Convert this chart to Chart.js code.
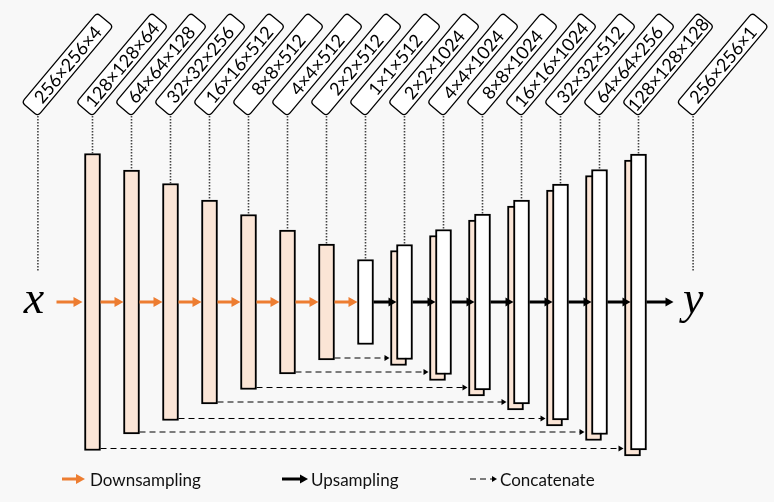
<!DOCTYPE html>
<html>
<head>
<meta charset="utf-8">
<script src="https://cdn.jsdelivr.net/npm/chart.js@4.4.1/dist/chart.umd.min.js"></script>
<style>
  html, body { margin: 0; padding: 0; background: #f8f8f8; }
  #unet { display: block; }
</style>
</head>
<body>
<canvas id="unet" width="774" height="502"></canvas>
<script>
// tensor shapes: input, 7 encoder blocks, bottleneck, 7 decoder blocks, output
const shapeLabels = ['256×256×4', '128×128×64', '64×64×128', '32×32×256', '16×16×512', '8×8×512',
  '4×4×512', '2×2×512', '1×1×512', '2×2×1024', '4×4×1024', '8×8×1024', '16×16×1024',
  '32×32×512', '64×64×256', '128×128×128', '256×256×1'];
// relative block heights
const encoderHeights = [297, 264, 237, 204, 175, 144, 116];
const bottleneckHeight = 85;
const decoderHeights = [115, 145, 176, 204, 236, 265, 296];
const legendLabels = ['Downsampling', 'Upsampling', 'Concatenate'];
const inputName = 'x';
const outputName = 'y';

// layout / style
const ORANGE = '#ed7d31';
const PEACH = '#fbe5d6';
const IO_GAP = 1.4;        // input/output columns, in block steps from the first/last block
const SHIFT = 6;           // px offset of the concatenated copy behind each decoder block
const LABEL_BASE = 186;    // y value where the label boxes end
const IO_LINE_END = 31;    // y value where the input/output dotted lines stop
const LEGEND_Y = 480;
const LEGEND_X = [62, 282, 470];

const span = h => [-h / 2, h / 2];
const encData = encoderHeights.map((h, i) => ({ x: i, y: span(h) }));
const midData = [{ x: encoderHeights.length, y: span(bottleneckHeight) }];
const decData = decoderHeights.map((h, j) => ({ x: encoderHeights.length + 1 + j, y: span(h) }));

const blockStyle = {
  borderColor: '#000',
  borderWidth: 2,
  borderSkipped: false,
  barThickness: 16,
  grouped: false
};

function arrow(ctx, x0, x1, yy, color, lw, headLen, headHalf, dash) {
  ctx.save();
  ctx.strokeStyle = color;
  ctx.fillStyle = color;
  ctx.lineWidth = lw;
  ctx.setLineDash(dash || []);
  ctx.beginPath();
  ctx.moveTo(x0, yy);
  ctx.lineTo(x1 - headLen + 1, yy);
  ctx.stroke();
  ctx.setLineDash([]);
  ctx.beginPath();
  ctx.moveTo(x1, yy);
  ctx.lineTo(x1 - headLen, yy - headHalf);
  ctx.lineTo(x1 - headLen, yy + headHalf);
  ctx.closePath();
  ctx.fill();
  ctx.restore();
}

function labelBox(ctx, ax, ay, text) {
  const L = 117, W = 21, r = 4, th = 50 * Math.PI / 180;
  const ux = Math.cos(th), uy = -Math.sin(th), vx = Math.sin(th), vy = Math.cos(th);
  const cx = ax + L / 2 * ux - W / 2 * vx;
  const cy = ay + L / 2 * uy - W / 2 * vy;
  ctx.save();
  ctx.translate(cx, cy);
  ctx.rotate(-th);
  const x0 = -L / 2, y0 = -W / 2, x1 = L / 2, y1 = W / 2;
  ctx.beginPath();
  ctx.moveTo(x0 + r, y0);
  ctx.lineTo(x1 - r, y0);
  ctx.quadraticCurveTo(x1, y0, x1, y0 + r);
  ctx.lineTo(x1, y1 - r);
  ctx.quadraticCurveTo(x1, y1, x1 - r, y1);
  ctx.lineTo(x0 + r, y1);
  ctx.quadraticCurveTo(x0, y1, x0, y1 - r);
  ctx.lineTo(x0, y0 + r);
  ctx.quadraticCurveTo(x0, y0, x0 + r, y0);
  ctx.closePath();
  ctx.fillStyle = '#fff';
  ctx.fill();
  ctx.lineWidth = 1.3;
  ctx.strokeStyle = '#000';
  ctx.stroke();
  ctx.fillStyle = '#000';
  ctx.font = '18px Lato';
  ctx.textAlign = 'center';
  ctx.textBaseline = 'middle';
  ctx.fillText(text, 0, 1);
  ctx.restore();
}

const box = el => ({
  cx: el.x,
  left: el.x - el.width / 2,
  right: el.x + el.width / 2,
  top: Math.min(el.y, el.base),
  bottom: Math.max(el.y, el.base)
});

const diagram = {
  id: 'diagram',
  beforeDatasetDraw(chart, args) {
    if (chart.data.datasets[args.index].concat) {
      chart.ctx.save();
      chart.ctx.translate(-SHIFT, SHIFT);
    }
  },
  afterDatasetDraw(chart, args) {
    if (chart.data.datasets[args.index].concat) chart.ctx.restore();
  },
  afterDatasetsDraw(chart) {
    const { ctx, scales: { x, y } } = chart;
    const enc = chart.getDatasetMeta(0).data.map(box);
    const mid = chart.getDatasetMeta(1).data.map(box)[0];
    const front = chart.getDatasetMeta(3).data.map(box);
    const blocks = [...enc, mid, ...front];
    const axisY = y.getPixelForValue(0);
    const labelY = y.getPixelForValue(LABEL_BASE);
    const ioEnd = y.getPixelForValue(IO_LINE_END);
    const inX = x.getPixelForValue(-IO_GAP);
    const outX = x.getPixelForValue(blocks.length - 1 + IO_GAP);
    const columns = [{ cx: inX, top: ioEnd }, ...blocks, { cx: outX, top: ioEnd }];

    // dotted leader lines
    ctx.save();
    ctx.strokeStyle = '#444';
    ctx.lineWidth = 1.6;
    ctx.setLineDash([1.5, 1.5]);
    columns.forEach(c => {
      ctx.beginPath();
      ctx.moveTo(c.cx, labelY);
      ctx.lineTo(c.cx, c.top);
      ctx.stroke();
    });
    ctx.restore();

    columns.forEach((c, k) => labelBox(ctx, c.cx, labelY, shapeLabels[k]));

    // downsampling path
    arrow(ctx, enc[0].left - 28, enc[0].left - 2, axisY, ORANGE, 3, 9, 5);
    const down = [...enc, mid];
    for (let i = 0; i < down.length - 1; i++) {
      arrow(ctx, down[i].right, down[i + 1].left, axisY, ORANGE, 3, 9, 5);
    }
    // upsampling path
    const up = [mid, ...front];
    for (let i = 0; i < up.length - 1; i++) {
      arrow(ctx, up[i].right, up[i + 1].left, axisY, '#000', 3, 8, 4.5);
    }
    const last = front[front.length - 1];
    arrow(ctx, last.right, last.right + 27, axisY, '#000', 3, 8, 4.5);

    // skip connections
    enc.forEach((e, i) => {
      const d = front[front.length - 1 - i];
      arrow(ctx, e.right, d.left - SHIFT - 1, e.bottom - 2, '#000', 1, 5, 3, [6, 4]);
    });

    // input / output symbols
    ctx.save();
    ctx.fillStyle = '#000';
    ctx.font = 'italic 46px "Liberation Serif"';
    ctx.textAlign = 'center';
    ctx.textBaseline = 'alphabetic';
    ctx.fillText(inputName, inX - 4, axisY + 11);
    ctx.fillText(outputName, outX, axisY + 11);
    ctx.restore();

    // legend
    arrow(ctx, LEGEND_X[0], LEGEND_X[0] + 23, LEGEND_Y - 1, ORANGE, 3, 9, 5);
    arrow(ctx, LEGEND_X[1], LEGEND_X[1] + 26, LEGEND_Y - 1, '#000', 3, 8, 4.5);
    arrow(ctx, LEGEND_X[2], LEGEND_X[2] + 27, LEGEND_Y - 1, '#000', 1, 5, 3, [6, 4]);
    const textX = [LEGEND_X[0] + 28, LEGEND_X[1] + 29, LEGEND_X[2] + 30];
    ctx.save();
    ctx.fillStyle = '#111';
    ctx.font = '17px Lato';
    ctx.textBaseline = 'middle';
    legendLabels.forEach((t, i) => ctx.fillText(t, textX[i], LEGEND_Y + 1));
    ctx.restore();
  }
};

new Chart(document.getElementById('unet'), {
  type: 'bar',
  data: {
    datasets: [
      { ...blockStyle, data: encData, backgroundColor: PEACH, order: 1 },
      { ...blockStyle, data: midData, backgroundColor: '#fff', order: 1 },
      { ...blockStyle, data: decData, backgroundColor: PEACH, order: 2, concat: true },
      { ...blockStyle, data: decData, backgroundColor: '#fff', order: 1 }
    ]
  },
  options: {
    responsive: false,
    animation: false,
    events: [],
    layout: { padding: 0 },
    plugins: { legend: { display: false }, tooltip: { enabled: false } },
    scales: {
      x: { type: 'linear', display: false, offset: false, min: -92.5 / 39, max: (774 - 92.5) / 39 },
      y: { display: false, min: -200, max: 302 }
    }
  },
  plugins: [diagram]
});
</script>
</body>
</html>
